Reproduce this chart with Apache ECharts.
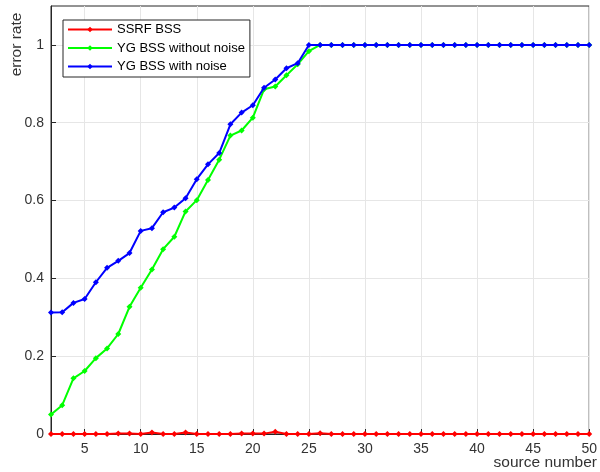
<!DOCTYPE html>
<html><head><meta charset="utf-8">
<script src="https://cdn.jsdelivr.net/npm/echarts@6/dist/echarts.min.js"></script>
<style>html,body{margin:0;padding:0;background:#fff}#c{width:600px;height:472px}</style>
</head><body><div id="c"></div>
<script>
const sourceNumbers = [2,3,4,5,6,7,8,9,10,11,12,13,14,15,16,17,18,19,20,21,22,23,24,25,26,27,28,29,30,31,32,33,34,35,36,37,38,39,40,41,42,43,44,45,46,47,48,49,50];
const ssrfBss = [0,0,0,0,0,0,0.001,0.001,0,0.004,0,0,0.004,0,0,0,0,0.001,0.001,0.001,0.006,0,0,0,0.002,0,0,0,0,0,0,0,0,0,0,0,0,0,0,0,0,0,0,0,0,0,0,0,0];
const ygWithoutNoise = [0.05,0.074,0.143,0.162,0.195,0.22,0.257,0.327,0.376,0.423,0.475,0.507,0.572,0.601,0.653,0.705,0.767,0.78,0.813,0.886,0.893,0.922,0.95,0.984,1,1,1,1,1,1,1,1,1,1,1,1,1,1,1,1,1,1,1,1,1,1,1,1,1];
const ygWithNoise = [0.312,0.313,0.337,0.347,0.39,0.427,0.445,0.465,0.522,0.529,0.57,0.582,0.606,0.655,0.693,0.722,0.796,0.826,0.845,0.89,0.911,0.94,0.953,1,1,1,1,1,1,1,1,1,1,1,1,1,1,1,1,1,1,1,1,1,1,1,1,1,1];
const xTicks = [5,10,15,20,25,30,35,40,45,50];
const yTicks = [0,0.2,0.4,0.6,0.8,1];
const seriesNames = ['SSRF BSS','YG BSS without noise','YG BSS with noise'];
const colors = ['#ff0000','#00ff00','#0000ff'];

const dataSets = [ssrfBss, ygWithoutNoise, ygWithNoise];
const font = 'Liberation Sans, Arial, sans-serif';
const chart = echarts.init(document.getElementById('c'));
chart.setOption({
  animation: false,
  backgroundColor: '#ffffff',
  grid: {left: 51, right: 6, top: 6, bottom: 38, show: true, borderColor: '#262626', borderWidth: 1, backgroundColor: 'transparent'},
  xAxis: {
    type: 'value', min: 2, max: 50,
    axisLine: {show: true, lineStyle: {color: '#262626', width: 1}},
    axisTick: {show: true, inside: true, length: 5, customValues: xTicks, lineStyle: {color: '#262626'}},
    axisLabel: {customValues: xTicks, color: '#333333', fontSize: 14, fontFamily: font, margin: 8},
    splitLine: {show: true, lineStyle: {color: '#e6e6e6', width: 1}}
  },
  yAxis: {
    type: 'value', min: 0, max: 1.1,
    axisLine: {show: true, lineStyle: {color: '#262626', width: 1}},
    axisTick: {show: true, inside: true, length: 5, customValues: yTicks, lineStyle: {color: '#262626'}},
    axisLabel: {customValues: yTicks, color: '#333333', fontSize: 14, fontFamily: font, margin: 7},
    splitLine: {show: true, lineStyle: {color: '#e6e6e6', width: 1}}
  },
  legend: {
    orient: 'vertical', left: 63, top: 20,
    data: seriesNames,
    backgroundColor: '#ffffff', borderColor: '#262626', borderWidth: 1, borderRadius: 0,
    padding: [3, 5, 4, 4], itemGap: 5.5, itemWidth: 44, itemHeight: 7,
    textStyle: {color: '#000000', fontSize: 13, fontFamily: font, padding: [0, 0, 0, 0]}
  },
  graphic: [
    {type: 'text', x: 597, y: 463, style: {text: 'source number', fill: '#333333', font: '15.5px ' + font, textAlign: 'right', textVerticalAlign: 'middle'}},
    {type: 'text', x: 17, y: 44.5, rotation: Math.PI / 2, style: {text: 'error rate', fill: '#333333', font: '15.5px ' + font, textAlign: 'center', textVerticalAlign: 'middle'}}
  ],
  series: seriesNames.map((n, i) => ({
    name: n, type: 'line',
    data: sourceNumbers.map((x, j) => [x, dataSets[i][j]]),
    color: colors[i],
    lineStyle: {width: 2, color: colors[i]},
    symbol: 'diamond', symbolSize: 6, showSymbol: true,
    itemStyle: {color: colors[i]},
    z: 2 + i
  }))
});
</script></body></html>
